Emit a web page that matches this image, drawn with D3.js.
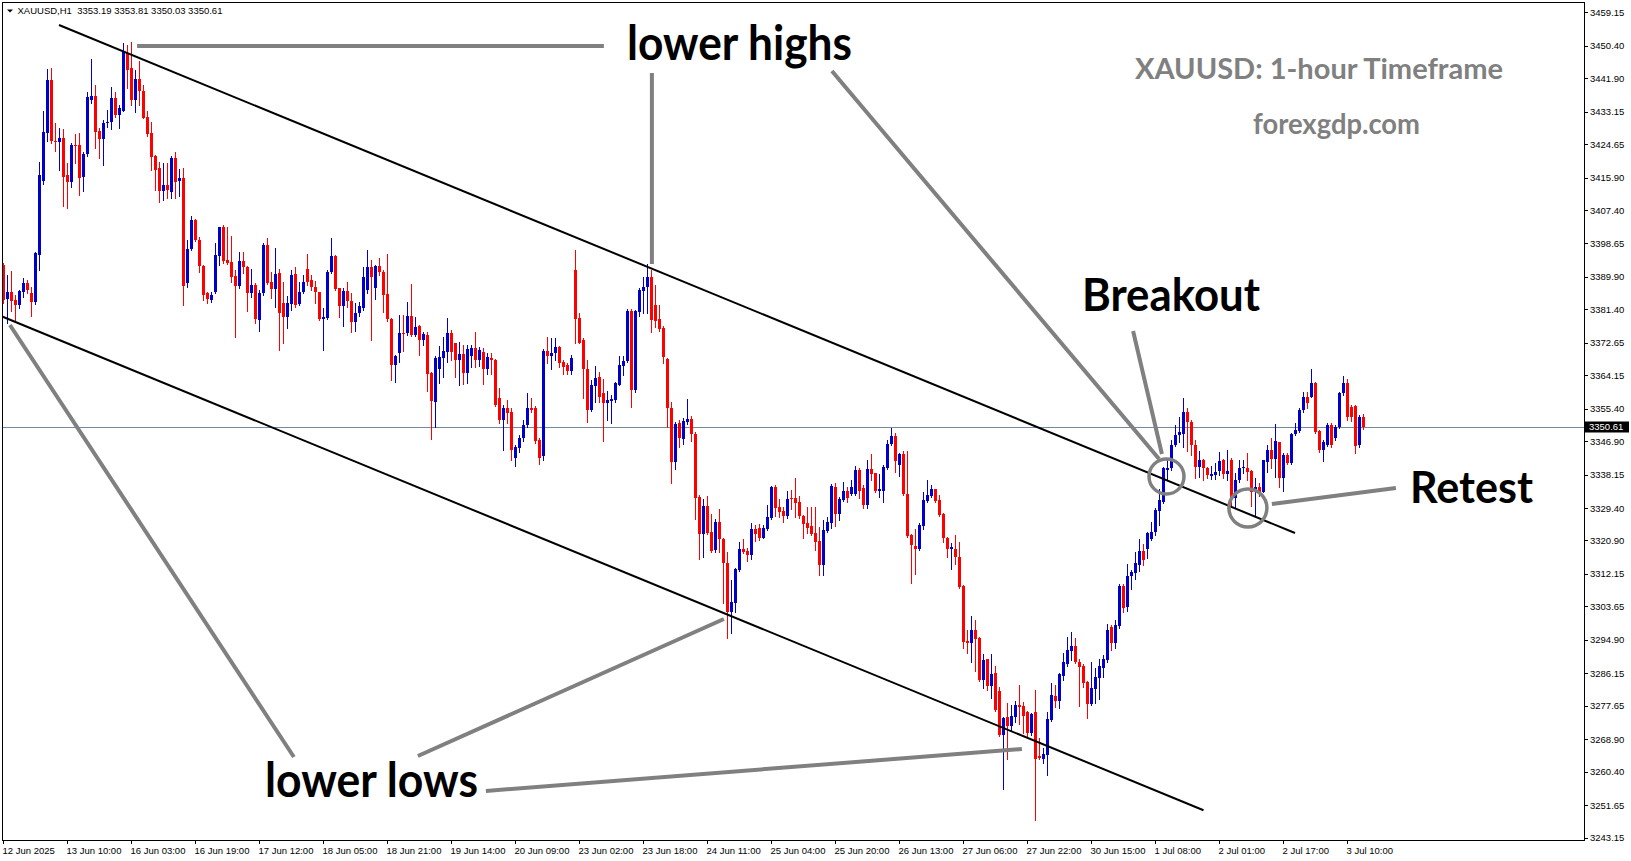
<!DOCTYPE html>
<html><head><meta charset="utf-8">
<script src="https://cdn.jsdelivr.net/npm/d3@7"></script>
<style>
html,body{margin:0;padding:0;background:#fff;}
svg{display:block;}
</style></head><body>
<svg id="chart" width="1631" height="861"></svg>
<script>
const opens=[
3393.0,3384.0,3385.9,3383.9,3382.5,3385.9,3388.2,3385.6,3383.4,3395.6,
3415.1,3427.6,3441.4,3425.5,3425.3,3426.2,3416.6,3414.8,3424.4,3424.4,
3416.1,3422.2,3436.2,3437.2,3428.1,3426.0,3430.1,3430.5,3436.8,3432.3,
3433.3,3448.4,3444.7,3436.2,3441.7,3438.6,3431.7,3427.7,3421.5,3418.5,
3412.4,3413.9,3412.2,3421.1,3415.1,3415.9,3388.4,3397.2,3404.8,3399.6,
3392.7,3385.6,3383.9,3385.9,3395.4,3403.0,3394.3,3393.7,3390.1,3387.5,
3394.0,3392.6,3385.6,3387.8,3378.6,3385.6,3398.2,3388.6,3386.7,3390.8,
3383.0,3379.5,3382.7,3390.6,3382.7,3385.9,3391.9,3389.2,3387.3,3386.0,
3379.0,3379.2,3391.1,3395.4,3386.9,3382.4,3386.2,3383.7,3378.2,3380.4,
3381.8,3386.5,3392.6,3386.9,3392.8,3391.3,3385.3,3378.9,3366.8,3370.1,
3375.1,3375.1,3379.7,3374.7,3377.0,3373.4,3374.7,3364.8,3357.2,3365.8,
3368.8,3370.3,3375.3,3372.5,3368.1,3369.7,3364.7,3369.2,3371.4,3368.1,
3370.3,3365.8,3368.8,3368.1,3358.1,3352.4,3355.5,3354.6,3342.5,3345.0,
3347.6,3351.1,3355.5,3355.5,3347.2,3343.0,3370.5,3369.3,3369.9,3371.6,
3367.7,3366.8,3365.3,3391.7,3379.2,3373.4,3365.8,3355.0,3361.4,3363.8,
3359.4,3357.0,3357.4,3357.7,3361.6,3366.6,3368.0,3381.1,3360.3,3380.8,
3386.3,3387.3,3390.0,3382.5,3378.9,3376.6,3368.3,3355.5,3341.5,3351.6,
3347.4,3351.8,3352.7,3348.9,3332.4,3322.6,3330.0,3323.0,3318.4,3325.8,
3321.3,3315.1,3302.1,3304.6,3313.2,3318.7,3318.1,3317.1,3323.9,3324.3,
3321.6,3323.9,3326.9,3335.0,3329.7,3328.6,3327.3,3331.9,3331.9,3331.1,
3327.4,3325.6,3324.8,3322.9,3320.8,3314.5,3323.5,3325.4,3335.0,3327.8,
3331.5,3333.9,3333.2,3333.1,3339.4,3334.6,3330.2,3339.5,3338.5,3333.9,
3333.9,3339.8,3346.2,3348.3,3340.7,3343.5,3333.2,3322.3,3319.5,3318.6,
3324.8,3331.3,3332.6,3334.4,3331.5,3327.8,3321.6,3318.7,3318.8,3316.7,
3309.1,3294.7,3294.0,3297.6,3295.3,3284.4,3289.8,3282.9,3286.1,3281.5,
3269.9,3274.8,3272.4,3274.8,3277.8,3277.6,3275.9,3270.4,3275.9,3264.5,
3263.7,3264.7,3273.9,3280.3,3279.0,3285.5,3288.7,3292.0,3293.3,3289.2,
3288.0,3283.9,3278.0,3282.0,3285.0,3287.4,3289.6,3298.3,3294.0,3298.5,
3309.1,3303.6,3311.6,3312.5,3314.5,3318.1,3318.7,3321.3,3323.0,3328.7,
3331.0,3339.3,3339.8,3345.9,3348.5,3348.9,3354.6,3352.0,3345.9,3340.2,
3342.1,3340.0,3337.8,3338.0,3339.1,3341.9,3338.2,3342.0,3331.9,3336.7,
3340.0,3340.0,3339.1,3333.7,3335.0,3333.7,3341.5,3344.7,3342.2,3346.8,
3337.3,3343.4,3341.1,3348.7,3349.6,3355.0,3358.5,3358.5,3362.2,3349.6,
3344.6,3345.9,3351.1,3347.6,3350.7,3359.4,3362.0,3355.9,3356.1,3345.9,
3353.1];
const highs=[
3393.5,3390.4,3391.4,3385.2,3386.5,3389.5,3389.1,3387.3,3396.5,3419.9,
3433.3,3444.3,3444.5,3430.3,3428.8,3428.5,3419.6,3424.9,3427.2,3427.7,
3422.7,3438.4,3446.9,3440.1,3428.8,3431.1,3433.6,3439.7,3438.2,3434.9,
3451.2,3450.6,3451.5,3444.1,3446.4,3440.1,3433.3,3430.4,3421.8,3420.1,
3419.8,3419.6,3421.5,3422.7,3418.1,3418.3,3399.5,3405.9,3405.0,3400.4,
3393.0,3386.0,3386.0,3398.7,3403.0,3403.5,3402.9,3400.7,3391.7,3396.5,
3396.5,3392.8,3392.0,3388.2,3386.6,3398.7,3400.2,3391.1,3397.4,3392.1,
3388.6,3384.9,3391.7,3392.6,3388.6,3390.4,3396.0,3390.4,3388.9,3386.0,
3381.7,3391.7,3400.0,3395.6,3387.1,3386.9,3388.6,3385.6,3383.0,3383.4,
3392.4,3397.0,3394.3,3393.0,3394.8,3391.7,3395.9,3379.2,3369.5,3379.9,
3379.9,3383.4,3388.0,3379.5,3377.3,3375.6,3375.6,3365.1,3369.2,3371.8,
3374.1,3379.2,3376.0,3372.7,3372.9,3372.1,3372.1,3372.1,3375.6,3371.6,
3371.2,3370.1,3370.1,3368.3,3360.9,3356.4,3357.8,3355.5,3346.0,3348.5,
3352.4,3359.6,3358.3,3356.0,3347.6,3371.0,3374.3,3373.8,3373.8,3371.8,
3368.1,3367.3,3369.5,3396.9,3380.5,3373.8,3368.1,3362.9,3366.7,3365.1,
3363.1,3360.0,3359.0,3362.5,3369.2,3369.2,3381.4,3381.4,3381.2,3386.9,
3390.0,3393.4,3391.7,3387.8,3382.5,3377.0,3368.6,3357.2,3352.0,3352.5,
3352.9,3357.9,3353.5,3349.2,3332.8,3331.8,3332.6,3327.8,3326.5,3329.1,
3321.5,3318.0,3310.6,3313.6,3320.4,3321.2,3319.0,3325.4,3325.0,3325.2,
3325.0,3330.2,3335.2,3335.4,3331.7,3329.7,3333.9,3334.1,3337.2,3332.6,
3327.6,3329.7,3329.7,3329.7,3324.5,3326.3,3327.1,3335.6,3335.9,3332.4,
3336.1,3335.0,3336.7,3340.4,3339.8,3335.4,3342.0,3343.5,3338.5,3338.3,
3340.7,3347.2,3350.4,3349.1,3343.7,3344.4,3344.4,3322.6,3323.8,3325.4,
3333.7,3336.7,3335.3,3334.5,3332.8,3328.0,3321.9,3320.3,3322.3,3320.6,
3309.2,3297.5,3301.1,3300.1,3295.7,3291.2,3290.0,3291.2,3288.0,3282.6,
3274.8,3278.3,3277.8,3279.0,3283.1,3278.7,3276.3,3275.8,3281.8,3269.1,
3266.5,3275.9,3283.7,3283.1,3286.1,3291.4,3295.6,3296.9,3295.3,3289.9,
3288.7,3284.2,3289.2,3287.4,3289.8,3290.9,3299.0,3298.8,3300.1,3309.4,
3309.5,3314.7,3313.2,3317.9,3321.3,3319.9,3323.0,3325.8,3329.3,3334.5,
3340.2,3342.4,3347.2,3351.1,3353.3,3358.3,3355.5,3352.4,3347.2,3344.4,
3342.3,3340.2,3340.4,3341.2,3344.1,3342.2,3344.6,3342.4,3338.5,3342.1,
3342.0,3343.9,3339.4,3337.2,3336.0,3342.1,3345.9,3347.8,3351.4,3346.8,
3343.7,3343.7,3349.1,3351.6,3355.5,3359.9,3359.9,3365.7,3362.5,3349.8,
3347.2,3351.6,3351.6,3351.1,3359.8,3363.9,3363.1,3356.4,3356.4,3353.7,
3353.9];
const lows=[
3383.0,3377.9,3381.0,3378.6,3381.8,3384.7,3385.6,3379.7,3382.8,3391.7,
3414.2,3425.5,3424.9,3422.9,3417.9,3408.5,3407.9,3413.5,3419.6,3411.3,
3412.4,3421.6,3435.3,3423.7,3421.1,3419.2,3429.2,3428.6,3431.7,3429.0,
3433.3,3439.3,3434.9,3433.1,3434.9,3431.4,3426.8,3417.9,3412.6,3409.6,
3410.0,3410.5,3410.5,3410.5,3411.2,3382.5,3387.3,3396.9,3399.4,3391.3,
3383.8,3383.0,3383.4,3385.6,3393.0,3393.5,3393.3,3388.6,3374.1,3386.9,
3390.8,3381.1,3384.7,3377.9,3375.8,3385.2,3388.0,3384.3,3382.1,3370.8,
3372.7,3376.4,3381.2,3382.1,3382.5,3385.6,3387.8,3386.5,3383.0,3378.6,
3370.8,3379.0,3390.8,3386.5,3379.5,3377.1,3382.1,3375.6,3375.8,3379.7,
3381.2,3385.6,3373.5,3384.0,3390.4,3380.8,3378.4,3362.9,3362.5,3367.7,
3370.6,3374.7,3374.4,3374.4,3369.5,3372.1,3360.1,3347.5,3350.7,3362.2,
3363.8,3367.7,3368.1,3363.8,3361.6,3361.8,3362.2,3366.4,3366.4,3366.6,
3361.9,3364.6,3364.5,3356.1,3351.6,3344.6,3351.7,3342.0,3340.5,3344.0,
3347.0,3350.7,3354.6,3346.5,3341.0,3342.0,3367.3,3365.8,3368.1,3366.4,
3364.6,3364.5,3364.5,3372.5,3372.5,3358.3,3352.0,3354.8,3357.2,3357.2,
3347.0,3352.4,3351.7,3357.2,3361.6,3364.2,3367.7,3355.9,3359.9,3379.7,
3380.5,3380.5,3375.6,3376.9,3375.7,3367.4,3350.7,3336.0,3339.5,3345.5,
3346.1,3351.3,3347.0,3326.5,3316.1,3316.7,3322.6,3318.0,3318.0,3318.0,
3304.6,3295.5,3296.6,3302.3,3312.9,3317.7,3315.6,3316.1,3320.8,3321.0,
3321.6,3323.6,3326.4,3327.4,3327.1,3325.8,3326.7,3329.1,3327.1,3326.7,
3321.6,3322.8,3322.3,3318.4,3311.9,3311.9,3323.2,3324.3,3324.7,3326.3,
3331.3,3331.1,3332.8,3332.8,3332.1,3329.3,3329.3,3336.7,3333.5,3332.2,
3331.1,3339.5,3345.9,3338.9,3337.9,3332.8,3321.9,3309.9,3312.1,3318.4,
3323.8,3331.1,3332.4,3331.1,3327.4,3320.6,3316.5,3313.4,3314.7,3308.5,
3292.7,3291.4,3289.2,3286.8,3284.2,3282.2,3281.8,3279.7,3276.3,3269.8,
3255.8,3263.7,3271.3,3273.5,3272.9,3270.4,3269.5,3270.0,3247.7,3263.7,
3262.6,3259.5,3273.6,3277.2,3277.0,3284.5,3288.0,3289.6,3288.9,3277.7,
3282.6,3274.5,3277.8,3278.3,3279.3,3285.2,3289.2,3292.2,3292.7,3298.1,
3302.3,3302.5,3308.1,3310.7,3313.0,3314.6,3316.2,3321.0,3322.3,3324.9,
3330.8,3336.7,3339.3,3345.6,3346.8,3345.5,3344.4,3343.3,3337.2,3337.6,
3336.7,3337.2,3336.9,3336.9,3338.0,3337.2,3336.7,3329.6,3329.3,3336.3,
3338.5,3336.7,3330.0,3327.6,3332.5,3333.5,3338.9,3339.8,3337.4,3335.0,
3333.9,3340.9,3340.9,3348.5,3349.4,3354.6,3355.5,3358.4,3349.1,3344.1,
3341.8,3345.6,3345.5,3347.2,3350.3,3359.0,3352.4,3352.3,3343.9,3345.3,
3350.0];
const closes=[
3383.9,3385.9,3383.7,3382.5,3386.2,3388.2,3386.5,3383.4,3396.2,3416.6,
3427.9,3441.4,3425.5,3425.3,3426.2,3416.1,3414.8,3424.4,3424.2,3415.9,
3422.2,3437.1,3437.2,3427.9,3426.0,3430.3,3430.5,3436.8,3432.3,3434.2,
3448.9,3444.1,3436.2,3441.7,3438.6,3431.6,3427.2,3421.4,3418.0,3412.5,
3413.9,3412.6,3421.1,3414.8,3415.9,3387.5,3397.2,3404.8,3399.6,3392.7,
3385.2,3384.1,3385.2,3395.6,3403.0,3394.1,3393.5,3390.0,3387.5,3394.0,
3392.6,3385.6,3387.8,3379.0,3385.8,3398.2,3388.2,3386.7,3390.6,3380.4,
3379.3,3383.0,3390.4,3382.5,3386.0,3388.6,3388.6,3387.3,3385.9,3379.0,
3379.5,3391.3,3395.4,3386.7,3382.3,3386.2,3383.7,3378.2,3380.5,3382.3,
3389.8,3392.4,3390.0,3392.8,3391.1,3385.2,3378.9,3366.8,3369.3,3375.1,
3374.9,3379.7,3374.7,3376.9,3373.4,3374.9,3364.5,3357.4,3368.8,3369.0,
3370.5,3375.3,3370.3,3368.1,3369.7,3364.8,3371.0,3371.4,3368.1,3370.8,
3365.8,3369.0,3368.1,3356.4,3352.4,3355.5,3354.4,3344.6,3345.5,3347.6,
3351.1,3355.5,3355.1,3347.0,3342.5,3370.5,3369.3,3370.1,3371.6,3367.3,
3366.4,3365.3,3368.6,3378.9,3372.7,3365.7,3355.0,3361.6,3363.5,3358.5,
3356.8,3357.7,3357.9,3362.2,3366.8,3368.0,3381.1,3360.3,3381.1,3386.5,
3387.3,3390.0,3378.6,3378.4,3376.2,3369.0,3355.5,3341.5,3351.4,3347.6,
3352.2,3352.7,3348.7,3332.1,3322.6,3330.0,3322.8,3318.2,3325.8,3321.2,
3314.9,3302.3,3304.9,3313.4,3318.7,3318.0,3317.1,3323.9,3322.6,3321.6,
3324.3,3327.1,3335.0,3329.5,3328.4,3327.3,3331.8,3331.7,3330.8,3327.4,
3325.2,3324.3,3322.6,3320.6,3314.5,3323.6,3325.8,3335.2,3327.8,3331.8,
3333.9,3332.1,3335.0,3339.4,3333.9,3330.2,3339.5,3338.2,3333.9,3334.4,
3340.2,3346.2,3348.3,3341.8,3343.5,3333.0,3322.1,3319.7,3318.6,3325.0,
3331.5,3332.8,3334.4,3331.3,3327.6,3321.5,3318.8,3319.1,3316.5,3308.8,
3294.4,3294.0,3297.5,3295.1,3284.4,3289.6,3282.9,3285.9,3276.5,3269.9,
3274.5,3272.4,3275.0,3277.8,3277.4,3275.0,3270.4,3275.4,3263.7,3263.9,
3264.9,3274.2,3280.4,3279.0,3285.9,3289.0,3292.2,3293.3,3289.2,3287.9,
3283.5,3278.0,3282.4,3285.1,3288.0,3289.9,3297.6,3294.0,3298.8,3309.1,
3303.1,3311.6,3312.6,3314.9,3318.1,3315.9,3322.9,3323.0,3328.9,3331.5,
3339.8,3339.9,3345.9,3348.5,3349.4,3354.6,3351.8,3345.9,3340.2,3341.9,
3339.8,3338.0,3338.3,3338.9,3341.7,3338.2,3339.1,3331.9,3336.7,3340.0,
3340.2,3338.7,3333.7,3335.0,3333.7,3341.9,3344.7,3342.2,3347.0,3337.3,
3343.4,3341.1,3348.8,3349.8,3355.0,3358.5,3357.0,3362.0,3349.4,3344.6,
3346.8,3351.1,3345.9,3350.7,3359.6,3362.0,3353.1,3353.1,3345.6,3353.1,
3350.6];

const xTickLabels=["12 Jun 2025","13 Jun 10:00","16 Jun 03:00","16 Jun 19:00","17 Jun 12:00","18 Jun 05:00","18 Jun 21:00","19 Jun 14:00","20 Jun 09:00","23 Jun 02:00","23 Jun 18:00","24 Jun 11:00","25 Jun 04:00","25 Jun 20:00","26 Jun 13:00","27 Jun 06:00","27 Jun 22:00","30 Jun 15:00","1 Jul 08:00","2 Jul 01:00","2 Jul 17:00","3 Jul 10:00"];
const yTickValues=[3459.15,3450.40,3441.90,3433.15,3424.65,3415.90,3407.40,3398.65,3389.90,3381.40,3372.65,3364.15,3355.40,3346.90,3338.15,3329.40,3320.90,3312.15,3303.65,3294.90,3286.15,3277.65,3268.90,3260.40,3251.65,3243.15];
const headerValues=["3353.19","3353.81","3350.03","3350.61"];
const lastPrice=3350.61;

// trend lines in (bar index, price)
const upperChannel=[[13.875,3455.84],[322.875,3322.86]];
const lowerChannel=[[-0.2,3379.48],[300,3250.30]];
const pointerLines=[
 [[33.4,3450.34],[150.1,3450.34]],
 [[162.1,3443.28],[162.1,3393.28]],
 [[207.1,3443.80],[288.9,3342.23]],
 [[282.4,3375.74],[289.6,3343.54]],
 [[317.1,3330.45],[348.1,3334.64]],
 [[1.6,3377.31],[72.6,3264.23]],
 [[103.6,3264.49],[180.1,3300.35]],
 [[120.6,3255.33],[254.6,3266.32]]
];
const circleMarks=[[290.75,3337.65],[311.1,3329.41]];

const svg=d3.select("#chart");
const W=1631,H=861;
const plotL=2,plotR=1584,plotT=3,plotB=840;
const x=d3.scaleLinear().domain([0,340]).range([3.5,1363.5]);
const y=d3.scaleLinear().domain([3242.5,3461.6]).range([plotB,plotT]);

svg.append("rect").attr("width",W).attr("height",H).attr("fill","#fff");

// current price line
const py=Math.floor(y(lastPrice))+0.5;
svg.append("line").attr("x1",plotL).attr("x2",plotR).attr("y1",py).attr("y2",py)
  .attr("stroke","#778899").attr("stroke-width",1);

// candles
const bars=d3.range(opens.length).map(i=>({i,o:opens[i],h:highs[i],l:lows[i],c:closes[i]}));
const cg=svg.append("g").attr("shape-rendering","crispEdges");
const col=d=>d.c>=d.o?"#0000cd":"#ff0000";
cg.selectAll("rect.wick").data(bars).join("rect").attr("class","wick")
  .attr("x",d=>x(d.i)-0.5).attr("width",1)
  .attr("y",d=>Math.round(y(d.h)))
  .attr("height",d=>Math.max(1,Math.round(y(d.l))-Math.round(y(d.h))+1))
  .attr("fill",col);
cg.selectAll("rect.body").data(bars).join("rect").attr("class","body")
  .attr("x",d=>x(d.i)-1.5).attr("width",3)
  .attr("y",d=>Math.round(y(Math.max(d.o,d.c))))
  .attr("height",d=>Math.max(1,Math.round(y(Math.min(d.o,d.c)))-Math.round(y(Math.max(d.o,d.c)))))
  .attr("fill",col);

// channel lines
const lineGen=d3.line().x(d=>x(d[0])).y(d=>y(d[1]));
[upperChannel,lowerChannel].forEach(l=>{
  svg.append("path").attr("d",lineGen(l)).attr("stroke","#000").attr("stroke-width",2).attr("fill","none");
});

// frame
svg.append("rect").attr("x",plotL+0.5).attr("y",plotT-0.5).attr("width",plotR-plotL).attr("height",plotB-plotT+0.5)
  .attr("fill","none").attr("stroke","#000").attr("stroke-width",1).attr("shape-rendering","crispEdges");

// annotation pointer lines
pointerLines.forEach(l=>{
  svg.append("path").attr("d",lineGen(l)).attr("stroke","#808080").attr("stroke-width",4).attr("fill","none");
});
circleMarks.forEach((c,k)=>{
  svg.append("circle").attr("cx",x(c[0])).attr("cy",y(c[1])).attr("r",k===0?17.5:19)
    .attr("fill","none").attr("stroke","#808080").attr("stroke-width",3.5);
});

// right axis
const yAxis=d3.axisRight(y).tickValues(yTickValues).tickSize(4).tickPadding(2).tickFormat(d3.format(".2f")).offset(0.5);
const ya=svg.append("g").attr("transform",`translate(${plotR},0)`).call(yAxis);
ya.select(".domain").remove();
ya.selectAll("line").attr("stroke","#000").attr("shape-rendering","crispEdges");
ya.selectAll("text").attr("font-family","'Liberation Sans',Arial,sans-serif").attr("font-size","9.5px").attr("fill","#000");

// last price tag
svg.append("rect").attr("x",1585).attr("y",Math.round(y(lastPrice))-5.5).attr("width",44).attr("height",11).attr("fill","#000");
svg.append("text").attr("x",1589).attr("y",y(lastPrice)).attr("dy","0.35em")
  .attr("font-family","'Liberation Sans',Arial,sans-serif").attr("font-size","9.5px").attr("fill","#fff")
  .text(d3.format(".2f")(lastPrice));

// bottom axis
const xAxis=d3.axisBottom(x).tickValues(d3.range(0,opens.length,16)).tickSize(4).tickPadding(3)
  .tickFormat((d,i)=>xTickLabels[i]).offset(0);
const xa=svg.append("g").attr("transform",`translate(0,${plotB})`).call(xAxis);
xa.select(".domain").remove();
xa.selectAll("line").attr("stroke","#000").attr("shape-rendering","crispEdges");
xa.selectAll("text").attr("text-anchor","start").attr("x",-1)
  .attr("font-family","'Liberation Sans',Arial,sans-serif").attr("font-size","9.5px").attr("fill","#000");

// header
svg.append("path").attr("d","M7,9.5 L13,9.5 L10,12.5 Z").attr("fill","#000");
svg.append("text").attr("x",17.5).attr("y",14)
  .attr("font-family","'Liberation Sans',Arial,sans-serif").attr("font-size","9.5px").attr("fill","#000")
  .style("white-space","pre")
  .text("XAUUSD,H1  "+headerValues.join(" "));

// annotation texts
const big=(t,x0,yb,len,fs,color)=>svg.append("text").attr("x",x0).attr("y",yb)
  .attr("font-family","Lato,'Open Sans',sans-serif").attr("font-weight",700).attr("font-size",fs+"px")
  .attr("fill",color).attr("textLength",len).attr("lengthAdjust","spacingAndGlyphs").text(t);
big("lower highs",627,60,225,47,"#000");
big("lower lows",265,797,213,47,"#000");
big("Breakout",1082,311,178,45,"#000");
big("Retest",1410,503,123,43,"#000");
big("XAUUSD: 1-hour Timeframe",1135,79,368,29,"#808080");
big("forexgdp.com",1253,134,167,29,"#808080");
</script>
</body></html>
